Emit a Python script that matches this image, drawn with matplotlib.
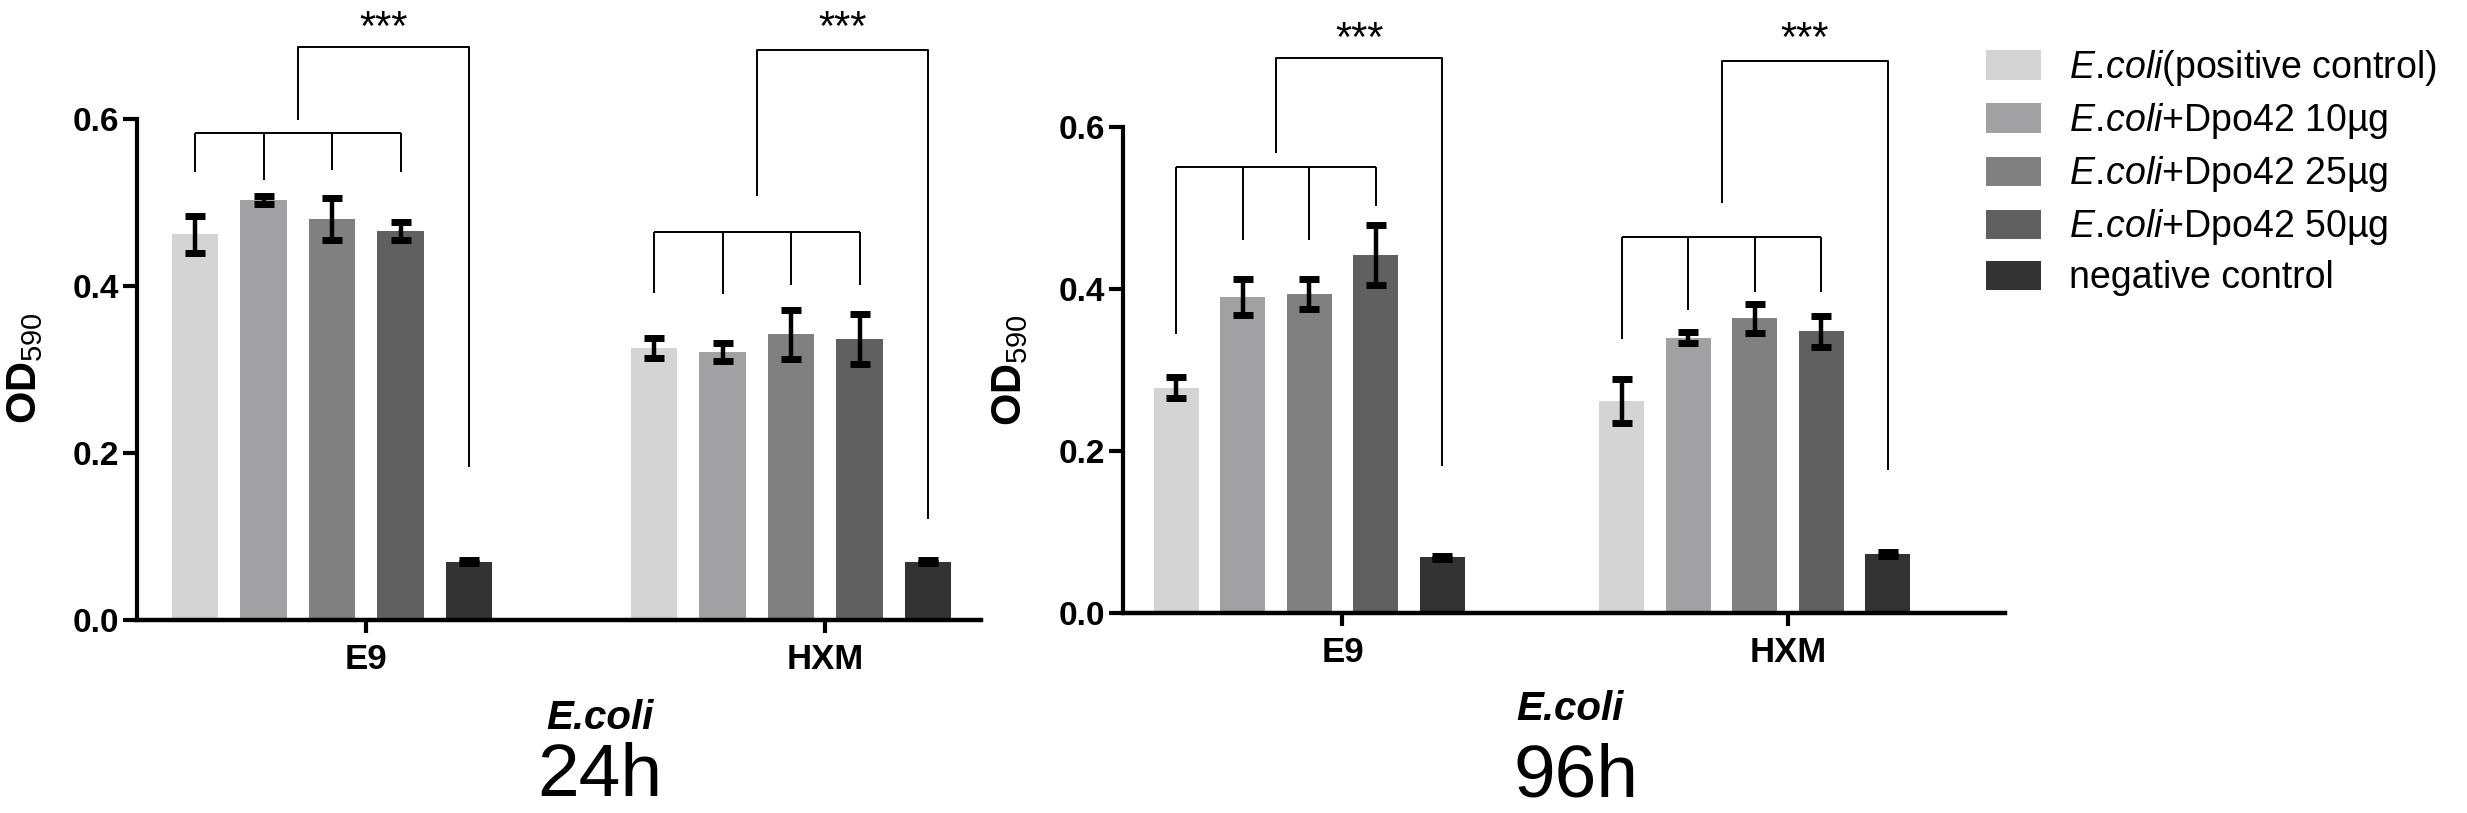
import matplotlib

matplotlib.use("Agg")

import matplotlib.pyplot as plt
import numpy as np
from matplotlib.patches import Patch

plt.rcParams["font.family"] = ["Liberation Sans", "DejaVu Sans"]
plt.rcParams["mathtext.fontset"] = "custom"
plt.rcParams["mathtext.rm"] = "Liberation Sans"
plt.rcParams["mathtext.it"] = "Liberation Sans:italic"
plt.rcParams["mathtext.bf"] = "Liberation Sans:bold"

# ---- data ----
STRAINS = ["E9", "HXM"]
TREATMENTS = [
    r"$\mathit{E.\!coli}$(positive control)",
    r"$\mathit{E.\!coli}$+Dpo42 10µg",
    r"$\mathit{E.\!coli}$+Dpo42 25µg",
    r"$\mathit{E.\!coli}$+Dpo42 50µg",
    "negative control",
]
COLORS = ["#d4d4d4", "#a1a1a4", "#808080", "#606060", "#333333"]

# 24 h
MEAN_24H_E9 = [0.462, 0.503, 0.480, 0.466, 0.070]
ERR_24H_E9 = [0.022, 0.005, 0.025, 0.011, 0.002]
MEAN_24H_HXM = [0.326, 0.321, 0.342, 0.336, 0.070]
ERR_24H_HXM = [0.012, 0.011, 0.029, 0.030, 0.002]

# 96 h
MEAN_96H_E9 = [0.278, 0.390, 0.394, 0.442, 0.069]
ERR_96H_E9 = [0.013, 0.022, 0.019, 0.037, 0.002]
MEAN_96H_HXM = [0.262, 0.340, 0.364, 0.348, 0.073]
ERR_96H_HXM = [0.027, 0.007, 0.018, 0.019, 0.002]

# significance brackets: small bar level, drop ends (bars 1-4),
# big bracket left leg bottom, top, right leg bottom
BRACKET_24H_E9 = (0.583, [0.536, 0.527, 0.539, 0.536], 0.599, 0.686, 0.183)
BRACKET_24H_HXM = (0.465, [0.392, 0.390, 0.401, 0.401], 0.508, 0.683, 0.121)
BRACKET_96H_E9 = (0.551, [0.345, 0.461, 0.461, 0.503], 0.568, 0.685, 0.182)
BRACKET_96H_HXM = (0.464, [0.339, 0.374, 0.397, 0.397], 0.506, 0.682, 0.177)
SIG_LABEL = "***"
SIG_LEVEL = 0.723

GROUP_OFFSETS = [0.0, 6.7]
Y_TICKS = [0.0, 0.2, 0.4, 0.6]


def draw_bracket(ax, x, bracket):
    small, drops, left_bottom, top, right_bottom = bracket
    line_kw = dict(color="black", linewidth=1.4, solid_capstyle="butt", zorder=4)
    ax.plot([x[0], x[3]], [small, small], **line_kw)
    for i in range(4):
        ax.plot([x[i], x[i]], [drops[i], small], **line_kw)
    mid = (x[1] + x[2]) / 2
    ax.plot([mid, mid, x[4], x[4]], [left_bottom, top, top, right_bottom], **line_kw)
    # asterisks sit high in the text box, so anchor on the baseline and shift down
    ax.annotate(
        SIG_LABEL,
        xy=((mid + x[4]) / 2, SIG_LEVEL),
        xytext=(0, -17),
        textcoords="offset points",
        ha="center",
        va="baseline",
        fontsize=30,
        annotation_clip=False,
    )


def draw_panel(ax, means, errs, brackets, xlim):
    for offset, mean, err, bracket in zip(GROUP_OFFSETS, means, errs, brackets):
        x = offset + np.arange(len(TREATMENTS))
        ax.bar(x, mean, width=0.68, color=COLORS, zorder=2)
        ax.errorbar(
            x,
            mean,
            yerr=err,
            fmt="none",
            ecolor="black",
            elinewidth=3.2,
            capsize=7,
            capthick=5,
            zorder=3,
        )
        draw_bracket(ax, x, bracket)

    ax.set_xlim(*xlim)
    ax.set_ylim(0, 0.74)
    ax.set_yticks(Y_TICKS)
    ax.set_yticklabels([f"{v:.1f}" for v in Y_TICKS])
    ax.set_xticks([offset + 2.5 for offset in GROUP_OFFSETS])
    ax.set_xticklabels(STRAINS)

    for side in ("top", "right"):
        ax.spines[side].set_visible(False)
    ax.spines["left"].set_bounds(0, 0.6)
    ax.spines["left"].set_linewidth(3)
    ax.spines["bottom"].set_linewidth(3.2)

    ax.tick_params(axis="y", length=10, width=3, pad=3, labelsize=24)
    ax.tick_params(axis="x", length=9.5, width=3, pad=7, labelsize=25)
    for label in ax.get_xticklabels() + ax.get_yticklabels():
        label.set_fontweight("bold")


fig = plt.figure(figsize=(24.67, 8.13), dpi=100)

ax1 = fig.add_axes([0.0555, 0.2374, 0.3421, 0.760])
ax2 = fig.add_axes([0.4552, 0.2460, 0.3575, 0.737])

draw_panel(
    ax1,
    [MEAN_24H_E9, MEAN_24H_HXM],
    [ERR_24H_E9, ERR_24H_HXM],
    [BRACKET_24H_E9, BRACKET_24H_HXM],
    (-0.85, 11.47),
)
draw_panel(
    ax2,
    [MEAN_96H_E9, MEAN_96H_HXM],
    [ERR_96H_E9, ERR_96H_HXM],
    [BRACKET_96H_E9, BRACKET_96H_HXM],
    (-0.80, 12.46),
)

# y labels
fig.text(0.0100, 0.547, r"$\mathbf{OD}_{590}$", rotation=90, ha="center", va="center", fontsize=30)
fig.text(0.4094, 0.545, r"$\mathbf{OD}_{590}$", rotation=90, ha="center", va="center", fontsize=30)

# group titles below the panels
fig.text(0.2432, 0.103, "E.coli", ha="center", va="baseline", fontsize=29,
         fontweight="bold", fontstyle="italic")
fig.text(0.2432, 0.002, "24h", ha="center", va="bottom", fontsize=54)
fig.text(0.6364, 0.115, "E.coli", ha="center", va="baseline", fontsize=29,
         fontweight="bold", fontstyle="italic")
fig.text(0.6390, 0.002, "96h", ha="center", va="bottom", fontsize=54)

handles = [Patch(facecolor=c, edgecolor="none") for c in COLORS]
fig.legend(
    handles,
    TREATMENTS,
    loc="upper left",
    bbox_to_anchor=(0.8050, 0.941),
    frameon=False,
    fontsize=27,
    handlelength=1.47,
    handleheight=0.83,
    handletextpad=0.75,
    labelspacing=0.35,
    borderpad=0,
    borderaxespad=0,
)

fig.savefig("out.png", dpi=100)
plt.close("all")
